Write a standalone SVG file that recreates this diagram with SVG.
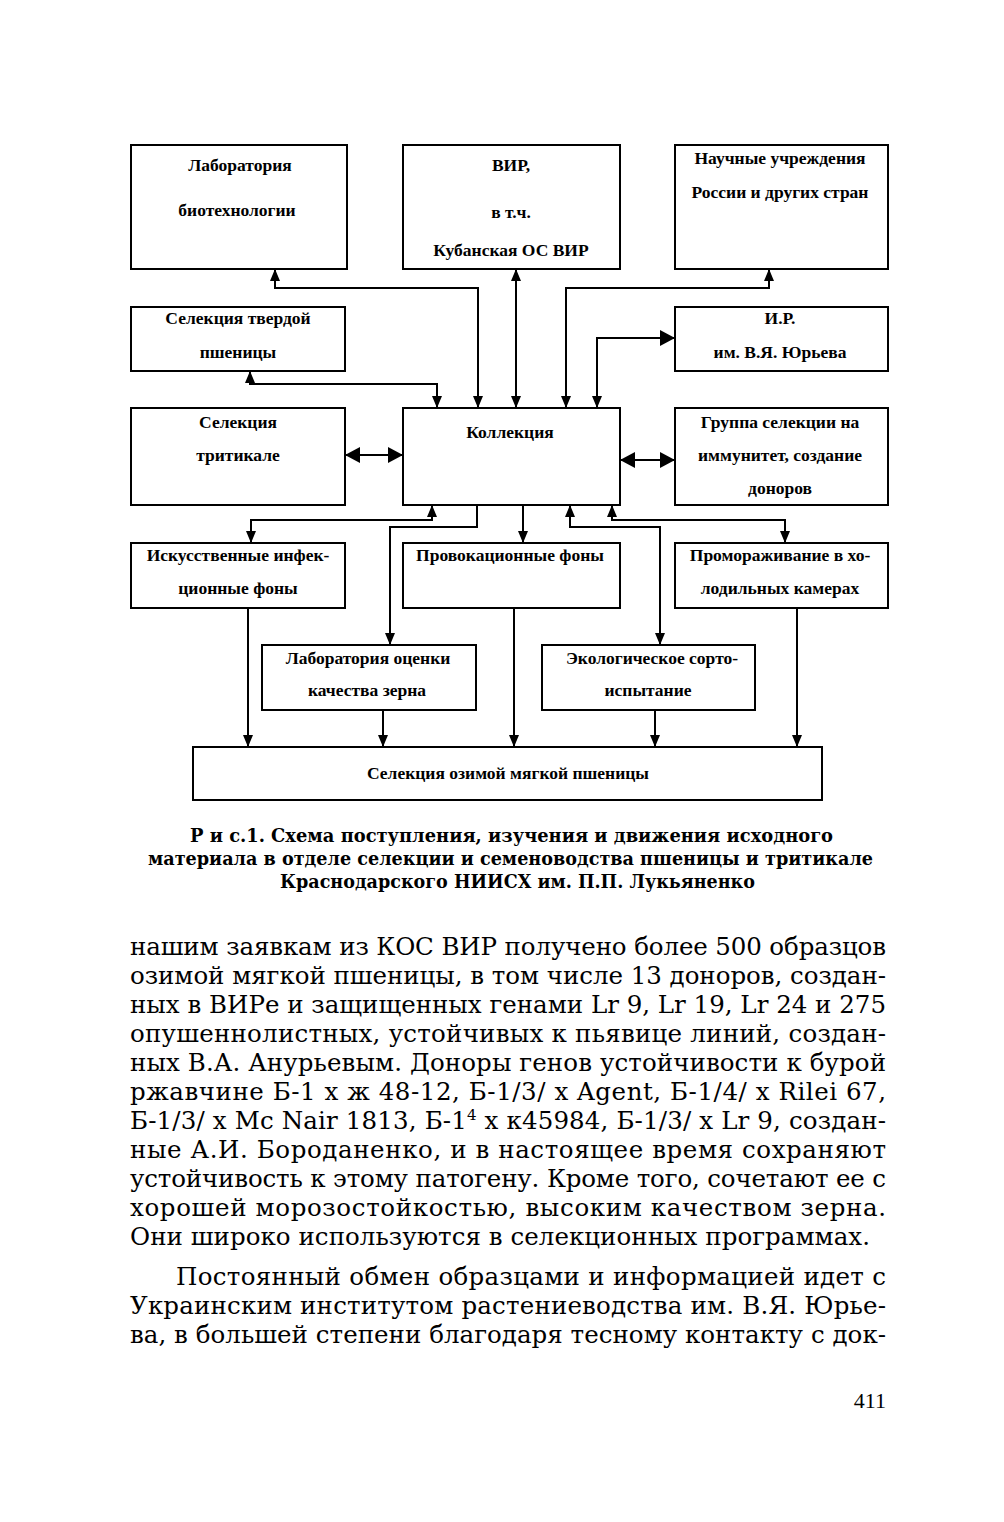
<svg xmlns="http://www.w3.org/2000/svg" width="1004" height="1522" viewBox="0 0 1004 1522">
<style>
.box{fill:#fff;stroke:#000;stroke-width:2}
.lbl{font-family:"Liberation Serif","DejaVu Serif",serif;font-weight:bold;font-size:17.5px;text-anchor:middle;fill:#000}
.conn{fill:none;stroke:#000;stroke-width:2}
.cap{font-family:"DejaVu Serif",serif;font-weight:bold;font-size:19px;fill:#000}
.body{font-family:"DejaVu Serif",serif;font-size:24.5px;fill:#000}
.pg{font-family:"Liberation Serif",serif;font-size:22px;fill:#000;text-anchor:end}
</style>
<defs>
<marker id="ah" markerUnits="userSpaceOnUse" viewBox="0 0 12 10" markerWidth="12" markerHeight="10" refX="12" refY="5" orient="auto-start-reverse"><path d="M0,0 L12,5 L0,10 z" fill="#000"/></marker>
<marker id="ahL" markerUnits="userSpaceOnUse" viewBox="0 0 15 16" markerWidth="15" markerHeight="16" refX="15" refY="8" orient="auto-start-reverse"><path d="M0,0 L15,8 L0,16 z" fill="#000"/></marker>
</defs>
<rect width="1004" height="1522" fill="#fff"/>

<g id="connectors">
<path class="conn" d="M275,269 V288 H478 V408" marker-start="url(#ah)" marker-end="url(#ah)"/>
<path class="conn" d="M516,269 V408" marker-start="url(#ah)" marker-end="url(#ah)"/>
<path class="conn" d="M769,269 V288 H566 V408" marker-start="url(#ah)" marker-end="url(#ah)"/>
<path class="conn" d="M675,338 H597 V408" marker-start="url(#ahL)" marker-end="url(#ah)"/>
<path class="conn" d="M250,371 V384 H437 V408" marker-start="url(#ah)" marker-end="url(#ah)"/>
<path class="conn" d="M345,455 H403" marker-start="url(#ahL)" marker-end="url(#ahL)"/>
<path class="conn" d="M620,460 H675" marker-start="url(#ahL)" marker-end="url(#ahL)"/>
<path class="conn" d="M432,505 V520 H251 V543" marker-start="url(#ah)" marker-end="url(#ah)"/>
<path class="conn" d="M477,505 V527 H390 V645" marker-end="url(#ah)"/>
<path class="conn" d="M523,505 V543" marker-end="url(#ah)"/>
<path class="conn" d="M570,505 V527 H660 V645" marker-start="url(#ah)" marker-end="url(#ah)"/>
<path class="conn" d="M612,505 V520 H785 V543" marker-start="url(#ah)" marker-end="url(#ah)"/>
<path class="conn" d="M248,608 V747" marker-end="url(#ah)"/>
<path class="conn" d="M383,710 V747" marker-end="url(#ah)"/>
<path class="conn" d="M514,608 V747" marker-end="url(#ah)"/>
<path class="conn" d="M655,710 V747" marker-end="url(#ah)"/>
<path class="conn" d="M797,608 V747" marker-end="url(#ah)"/>
</g>

<g id="n-biotech"><rect class="box" x="131" y="145" width="216" height="124"/>
<text class="lbl" x="240" y="171">Лаборатория</text><text class="lbl" x="237" y="216">биотехнологии</text></g>

<g id="n-vir"><rect class="box" x="403" y="145" width="217" height="124"/>
<text class="lbl" x="511" y="171">ВИР,</text><text class="lbl" x="511" y="218">в т.ч.</text><text class="lbl" x="511" y="256">Кубанская ОС ВИР</text></g>

<g id="n-nauch"><rect class="box" x="675" y="145" width="213" height="124"/>
<text class="lbl" x="780" y="164">Научные учреждения</text><text class="lbl" x="780" y="198">России и других стран</text></g>

<g id="n-tverd"><rect class="box" x="131" y="307" width="214" height="64"/>
<text class="lbl" x="238" y="324">Селекция твердой</text><text class="lbl" x="238" y="358">пшеницы</text></g>

<g id="n-ir"><rect class="box" x="675" y="307" width="213" height="64"/>
<text class="lbl" x="780" y="324">И.Р.</text><text class="lbl" x="780" y="358">им. В.Я. Юрьева</text></g>

<g id="n-tritik"><rect class="box" x="131" y="408" width="214" height="97"/>
<text class="lbl" x="238" y="428">Селекция</text><text class="lbl" x="238" y="461">тритикале</text></g>

<g id="n-koll"><rect class="box" x="403" y="408" width="217" height="97"/>
<text class="lbl" x="510" y="438">Коллекция</text></g>

<g id="n-immun"><rect class="box" x="675" y="408" width="213" height="97"/>
<text class="lbl" x="780" y="428">Группа селекции на</text><text class="lbl" x="780" y="461">иммунитет, создание</text><text class="lbl" x="780" y="494">доноров</text></g>

<g id="n-infek"><rect class="box" x="131" y="543" width="214" height="65"/>
<text class="lbl" x="238" y="561">Искусственные инфек-</text><text class="lbl" x="238" y="594">ционные фоны</text></g>

<g id="n-provok"><rect class="box" x="403" y="543" width="217" height="65"/>
<text class="lbl" x="510" y="561">Провокационные фоны</text></g>

<g id="n-promor"><rect class="box" x="675" y="543" width="213" height="65"/>
<text class="lbl" x="780" y="561">Промораживание в хо-</text><text class="lbl" x="780" y="594">лодильных камерах</text></g>

<g id="n-kach"><rect class="box" x="262" y="645" width="214" height="65"/>
<text class="lbl" x="368" y="664">Лаборатория оценки</text><text class="lbl" x="367" y="696">качества зерна</text></g>

<g id="n-ekol"><rect class="box" x="542" y="645" width="213" height="65"/>
<text class="lbl" x="652" y="664">Экологическое сорто-</text><text class="lbl" x="648" y="696">испытание</text></g>

<g id="n-ozim"><rect class="box" x="193" y="747" width="629" height="53"/>
<text class="lbl" x="508" y="779">Селекция озимой мягкой пшеницы</text></g>

<g id="caption">
<text class="cap" x="190" y="842" textLength="643" lengthAdjust="spacingAndGlyphs">Р и с.1. Схема поступления, изучения и движения исходного</text>
<text class="cap" x="148" y="865" textLength="725" lengthAdjust="spacingAndGlyphs">материала в отделе селекции и семеноводства пшеницы и тритикале</text>
<text class="cap" x="280" y="888" textLength="475" lengthAdjust="spacingAndGlyphs">Краснодарского НИИСХ им. П.П. Лукьяненко</text>
</g>

<g id="body">
<text class="body" x="130" y="955" textLength="756" lengthAdjust="spacing">нашим заявкам из КОС ВИР получено более 500 образцов</text>
<text class="body" x="130" y="984" textLength="756" lengthAdjust="spacing">озимой мягкой пшеницы, в том числе 13 доноров, создан-</text>
<text class="body" x="130" y="1013" textLength="756" lengthAdjust="spacing">ных в ВИРе и защищенных генами Lr 9, Lr 19, Lr 24 и 275</text>
<text class="body" x="130" y="1042" textLength="756" lengthAdjust="spacing">опушеннолистных, устойчивых к пьявице линий, создан-</text>
<text class="body" x="130" y="1071" textLength="756" lengthAdjust="spacing">ных В.А. Анурьевым. Доноры генов устойчивости к бурой</text>
<text class="body" x="130" y="1100" textLength="756" lengthAdjust="spacing">ржавчине Б-1 х ж 48-12, Б-1/3/ х Agent, Б-1/4/ х Rilei 67,</text>
<text class="body" x="130" y="1129" textLength="756" lengthAdjust="spacing">Б-1/3/ х Mc Nair 1813, Б-1<tspan font-size="15" dy="-9">4</tspan><tspan dy="9"> х к45984, Б-1/3/ х Lr 9, создан-</tspan></text>
<text class="body" x="130" y="1158" textLength="756" lengthAdjust="spacing">ные А.И. Бороданенко, и в настоящее время сохраняют</text>
<text class="body" x="130" y="1187" textLength="756" lengthAdjust="spacing">устойчивость к этому патогену. Кроме того, сочетают ее с</text>
<text class="body" x="130" y="1216" textLength="756" lengthAdjust="spacing">хорошей морозостойкостью, высоким качеством зерна.</text>
<text class="body" x="130" y="1245" textLength="740" lengthAdjust="spacing">Они широко используются в селекционных программах.</text>
<text class="body" x="176" y="1285" textLength="710" lengthAdjust="spacing">Постоянный обмен образцами и информацией идет с</text>
<text class="body" x="130" y="1314" textLength="756" lengthAdjust="spacing">Украинским институтом растениеводства им. В.Я. Юрье-</text>
<text class="body" x="130" y="1343" textLength="756" lengthAdjust="spacing">ва, в большей степени благодаря тесному контакту с док-</text>
<text class="pg" x="886" y="1408">411</text>
</g>
</svg>
